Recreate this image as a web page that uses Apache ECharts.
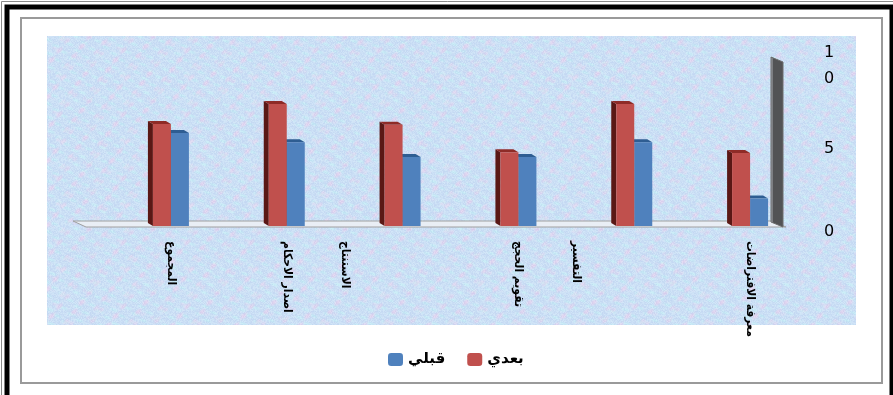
<!DOCTYPE html>
<html>
<head>
<meta charset="utf-8">
<script src="https://cdn.jsdelivr.net/npm/echarts@6/dist/echarts.min.js"></script>
<style>
    html, body { margin: 0; padding: 0; background: #fff; }
    #chart { width: 893px; height: 395px; }
</style>
</head>
<body>
<div id="chart"></div>
<script>
// categories run right to left (the x axis is inverted)
var categories = ['معرفة الافتراضات', 'التفسير', 'تقويم الحجج', 'الاستنتاج', 'اصدار الاحكام', 'المجموع'];
var afterValues = [4.4, 7.35, 4.45, 6.1, 7.35, 6.15];   // بعدي
var beforeValues = [1.65, 5.05, 4.15, 4.15, 5.05, 5.6]; // قبلي
var seriesNames = ['قبلي', 'بعدي'];
var yTicks = [0, 5, 10];

var GRID = { left: 113, right: 85, top: 60, bottom: 169 };
var BAR_W = 18,
    DEPTH_X = -5,
    DEPTH_Y = -3;

// two labels sit half a band to the left in the original
var labelShift = { 'التفسير': 0.5, 'الاستنتاج': 0.5 };
var labelPos = categories.map(function(c, i) {
    return i + 0.5 + (labelShift[c] || 0);
});

// mottled pastel texture for the plot background (tiles seamlessly)
function makeTexture() {
    var N = 64,
        w = Math.PI * 2 / N,
        cv = document.createElement('canvas');
    cv.width = N; cv.height = N;
    var ctx = cv.getContext('2d'),
        img = ctx.createImageData(N, N),
        d = img.data;
    for (var y = 0; y < N; y++) {
        for (var x = 0; x < N; x++) {
            var a = Math.sin(w * (3 * x + 2 * y)) + Math.sin(w * (5 * y - 2 * x) + 1.3) * 0.8 + Math.sin(w * (7 * x + 6 * y) + 0.4) * 0.5;
            var c = Math.sin(w * (4 * x - 5 * y) + 2.1) + Math.sin(w * (9 * y + x)) * 0.5;
            var h = ((x * 374761393 + y * 668265263) ^ (x * y * 2246822519)) >>> 0;
            var g = ((h % 1000) / 1000 - 0.5) * 16;
            var p = Math.max(0, a - 0.4) / 2,
                q = Math.max(0, c - 0.3) / 1.5;
            var k = (y * N + x) * 4;
            d[k] = 203 + p * 22 - q * 6 + g;
            d[k + 1] = 223 - p * 12 + q * 12 + g;
            d[k + 2] = Math.min(255, 245 - p * 6 + g * 0.4);
            d[k + 3] = 255;
        }
    }
    ctx.putImageData(img, 0, 0);
    return cv;
}

function bar3d(colors, side) {
    return function(params, api) {
        var i = api.value(0),
            v = api.value(1),
            base = api.coord([i, 0]),
            top = api.coord([i, v]),
            cx = base[0],
            x0 = side < 0 ? cx - BAR_W : cx,
            x1 = x0 + BAR_W,
            yb = base[1],
            yt = top[1];
        return {
            type: 'group',
            children: [{
                type: 'polygon',
                shape: { points: [[x0, yb], [x0, yt], [x0 + DEPTH_X, yt + DEPTH_Y], [x0 + DEPTH_X, yb + DEPTH_Y]] },
                style: { fill: colors.side }
            }, {
                type: 'polygon',
                shape: { points: [[x0, yt], [x1, yt], [x1 + DEPTH_X, yt + DEPTH_Y], [x0 + DEPTH_X, yt + DEPTH_Y]] },
                style: { fill: colors.top }
            }, {
                type: 'rect',
                shape: { x: x0, y: yt, width: BAR_W, height: yb - yt },
                style: { fill: colors.front }
            }]
        };
    };
}

var chart = echarts.init(document.getElementById('chart'));
var arabicFont = '"DejaVu Sans Condensed", "DejaVu Sans", sans-serif';

var option = {
    backgroundColor: '#fff',
    animation: false,
    graphic: [
        { type: 'rect', z: -10, shape: { x: 1.5, y: 1.5, width: 900, height: 400 }, style: { fill: 'none', stroke: '#8a8a8a', lineWidth: 1 } },
        { type: 'rect', z: -10, shape: { x: 7, y: 7, width: 885, height: 391 }, style: { fill: 'none', stroke: '#000', lineWidth: 5 } },
        { type: 'rect', z: -10, shape: { x: 21, y: 18, width: 861, height: 365 }, style: { fill: 'none', stroke: '#9a9a9a', lineWidth: 2 } },
        { type: 'rect', z: -9, shape: { x: 47, y: 36, width: 809, height: 289 }, style: { fill: { image: makeTexture(), repeat: 'repeat' } } },
        // floor
        { type: 'polygon', z: -8, shape: { points: [[73, 221], [772, 221], [786, 227], [86, 227]] },
          style: { fill: '#e9eef5', stroke: '#a0a0a0', lineWidth: 1 } },
        // right wall
        { type: 'polygon', z: -8, shape: { points: [[771, 57], [783, 62], [783, 227], [771, 222]] },
          style: { fill: '#525355', stroke: '#6d6d6d', lineWidth: 1 } },
        { type: 'rect', z: -8, shape: { x: 771, y: 58, width: 2, height: 164 }, style: { fill: '#7d7f83' } }
    ],
    legend: {
        data: seriesNames,
        left: 383,
        top: 347,
        itemWidth: 15,
        itemHeight: 13,
        itemGap: 22,
        textStyle: { fontFamily: '"DejaVu Sans", sans-serif', fontWeight: 'bold', fontSize: 15, color: '#000' }
    },
    grid: GRID,
    xAxis: [{
        type: 'category',
        data: categories,
        inverse: true,
        axisLine: { show: false },
        axisTick: { show: false },
        axisLabel: { show: false }
    }, {
        type: 'value',
        min: 0,
        max: categories.length,
        inverse: true,
        position: 'bottom',
        splitLine: { show: false },
        axisLine: { show: false },
        axisTick: { show: false },
        axisLabel: {
            customValues: labelPos,
            rotate: -90,
            margin: 15,
            fontFamily: arabicFont,
            fontWeight: 'bold',
            fontSize: 12,
            color: '#000',
            formatter: function(val) {
                var idx = labelPos.indexOf(val);
                return idx >= 0 ? categories[idx] : '';
            }
        }
    }],
    yAxis: {
        type: 'value',
        position: 'right',
        min: yTicks[0],
        max: yTicks[yTicks.length - 1],
        interval: yTicks[1] - yTicks[0],
        splitLine: { show: false },
        axisLine: { show: false },
        axisTick: { show: false },
        axisLabel: {
            margin: 16,
            align: 'left',
            formatter: function(v) {
                // the original wraps "10" onto two lines
                var digits = String(v).split('');
                return '{gap| }\n' + digits.map(function(ch) { return '{t|' + ch + '}'; }).join('\n');
            },
            rich: {
                gap: { fontSize: 1, lineHeight: 12, height: 12 },
                t: { fontFamily: '"DejaVu Sans", sans-serif', fontSize: 16, lineHeight: 26, color: '#000' }
            }
        }
    },
    series: [{
        name: seriesNames[0],
        type: 'custom',
        xAxisIndex: 0,
        itemStyle: { color: '#4f81bd' },
        renderItem: bar3d({ front: '#4f81bd', top: '#2e5d92', side: '#213f66' }, 1),
        data: beforeValues.map(function(v, i) { return [i, v]; })
    }, {
        name: seriesNames[1],
        type: 'custom',
        xAxisIndex: 0,
        itemStyle: { color: '#c0504d' },
        renderItem: bar3d({ front: '#c0504d', top: '#8e2b27', side: '#5a1815' }, -1),
        data: afterValues.map(function(v, i) { return [i, v]; })
    }]
};

chart.setOption(option);
</script>
</body>
</html>
